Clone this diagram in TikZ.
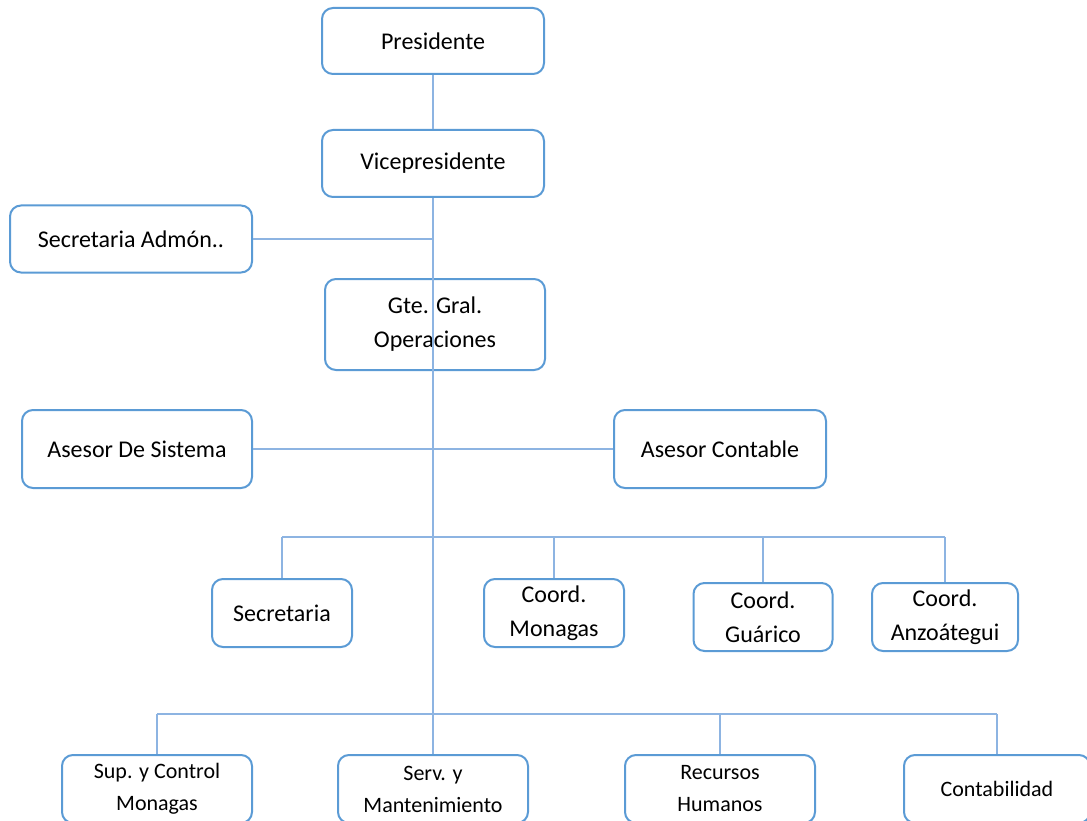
\documentclass[tikz,border=0pt]{standalone}
\usepackage{fontspec}
\setmainfont{Carlito}
\usepackage{xcolor}
\usetikzlibrary{positioning}
\definecolor{boxBlue}{HTML}{5B9BD5}
\definecolor{lineBlue}{HTML}{8DB4E2}

\begin{document}
\begin{tikzpicture}[
    x=1pt, y=-1pt,
    box/.style={draw=boxBlue, line width=2pt, rounded corners=11pt, align=center, inner sep=0pt, font=\fontsize{24}{34}\selectfont},
    lowbox/.style={box, minimum width=190pt, minimum height=68pt, font=\fontsize{22}{32}\selectfont},
    link/.style={draw=lineBlue, line width=1.2pt}
  ]
    \useasboundingbox (0,0) rectangle (1087,821);
    \clip (0,0) rectangle (1087,821);

    \node[box, minimum width=222pt, minimum height=66pt] (pres) at (433,41) {Presidente};
    \node[box, minimum width=222pt, minimum height=67pt] (vice) at (433,163.5) {Vicepresidente};
    \node[box, minimum width=242pt, minimum height=67pt] (secAdm) at (131,239) {Secretaria Admón..};
    \node[box, minimum width=220pt, minimum height=91pt] (gteOps) at (435,324.5) {Gte. Gral.\\Operaciones};
    \node[box, minimum width=230pt, minimum height=78pt] (asesorSis) at (137,449) {Asesor De Sistema};
    \node[box, minimum width=212pt, minimum height=78pt] (asesorCont) at (720,449) {Asesor Contable};

    \node[box, minimum width=140pt, minimum height=68pt] (secre) at (282,613) {Secretaria};
    \node[box, minimum width=140pt, minimum height=68pt] (coordMon) at (554,613) {Coord.\\Monagas};
    \node[box, minimum width=139pt, minimum height=68pt] (coordGua) at (763,617) {Coord.\\Guárico};
    \node[box, minimum width=146pt, minimum height=68pt] (coordAnz) at (945,617) {Coord.\\Anzoátegui};

    \node[lowbox] (supMon) at (157,789) {Sup. y Control\\Monagas};
    \node[lowbox] (servMant) at (433,789) {Serv. y\\Mantenimiento};
    \node[lowbox] (recHum) at (720,789) {Recursos\\Humanos};
    \node[lowbox, minimum width=186pt] (contab) at (997,789) {Contabilidad};

    \coordinate (busMid) at (433,537);
    \coordinate (busLow) at (433,714);

    \draw[link] (pres) -- (vice);
    \draw[link] (vice.south) -- (servMant.north);
    \draw[link] (secAdm.east) -- (secAdm.east -| vice.south);
    \draw[link] (asesorSis) -- (asesorCont);

    \foreach \n in {secre, coordMon, coordGua, coordAnz}
      \draw[link] (\n.north) -- (\n.north |- busMid);
    \draw[link] (secre.north |- busMid) -- (coordAnz.north |- busMid);

    \foreach \n in {supMon, recHum, contab}
      \draw[link] (\n.north) -- (\n.north |- busLow);
    \draw[link] (supMon.north |- busLow) -- (contab.north |- busLow);
  \end{tikzpicture}
\end{document}
